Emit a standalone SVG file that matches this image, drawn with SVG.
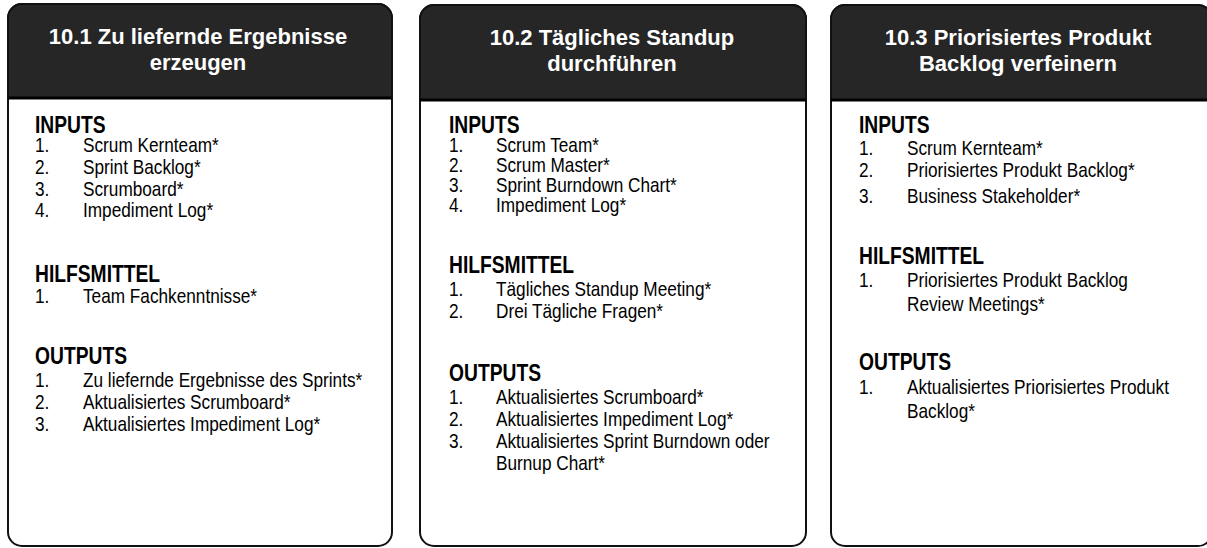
<svg xmlns="http://www.w3.org/2000/svg" width="1207" height="548" viewBox="0 0 1207 548">
<style>
.frame{fill:#fff;stroke:#111;stroke-width:2}
.hdr{fill:#262626;stroke:#111;stroke-width:2}
.sep{stroke:#000;stroke-width:3}
.title{font-family:"Liberation Sans",Arial,sans-serif;font-weight:bold;font-size:22px;fill:#fff;text-anchor:middle}
.h{font-family:"Liberation Sans",Arial,sans-serif;font-weight:bold;font-size:23.5px;fill:#000}
.t{font-family:"Liberation Sans",Arial,sans-serif;font-size:21px;fill:#000}
</style>
<g id="box1">
<rect class="frame" x="8" y="4" width="384" height="542" rx="14"/>
<path class="hdr" d="M8,98 V18 A14,14 0 0 1 22,4 H378 A14,14 0 0 1 392,18 V98 Z"/>
<line class="sep" x1="8" y1="98" x2="392" y2="98"/>
<text class="title" x="198" y="44">10.1 Zu liefernde Ergebnisse</text>
<text class="title" x="198" y="70">erzeugen</text>
<text class="h" transform="translate(35,133) scale(0.82,1)">INPUTS</text>
<text class="t" transform="translate(35,152) scale(0.82,1)">1.</text><text class="t" transform="translate(83,152) scale(0.82,1)">Scrum Kernteam*</text>
<text class="t" transform="translate(35,174) scale(0.82,1)">2.</text><text class="t" transform="translate(83,174) scale(0.82,1)">Sprint Backlog*</text>
<text class="t" transform="translate(35,196) scale(0.82,1)">3.</text><text class="t" transform="translate(83,196) scale(0.82,1)">Scrumboard*</text>
<text class="t" transform="translate(35,217) scale(0.82,1)">4.</text><text class="t" transform="translate(83,217) scale(0.82,1)">Impediment Log*</text>
<text class="h" transform="translate(35,282) scale(0.82,1)">HILFSMITTEL</text>
<text class="t" transform="translate(35,303) scale(0.82,1)">1.</text><text class="t" transform="translate(83,303) scale(0.82,1)">Team Fachkenntnisse*</text>
<text class="h" transform="translate(35,364) scale(0.82,1)">OUTPUTS</text>
<text class="t" transform="translate(35,387) scale(0.82,1)">1.</text><text class="t" transform="translate(83,387) scale(0.82,1)">Zu liefernde Ergebnisse des Sprints*</text>
<text class="t" transform="translate(35,409) scale(0.82,1)">2.</text><text class="t" transform="translate(83,409) scale(0.82,1)">Aktualisiertes Scrumboard*</text>
<text class="t" transform="translate(35,431) scale(0.82,1)">3.</text><text class="t" transform="translate(83,431) scale(0.82,1)">Aktualisiertes Impediment Log*</text>
</g>
<g id="box2">
<rect class="frame" x="420" y="5" width="386" height="541" rx="14"/>
<path class="hdr" d="M420,100 V19 A14,14 0 0 1 434,5 H792 A14,14 0 0 1 806,19 V100 Z"/>
<line class="sep" x1="420" y1="100" x2="806" y2="100"/>
<text class="title" x="612" y="45">10.2 Tägliches Standup</text>
<text class="title" x="612" y="71">durchführen</text>
<text class="h" transform="translate(449,133) scale(0.82,1)">INPUTS</text>
<text class="t" transform="translate(449,152) scale(0.82,1)">1.</text><text class="t" transform="translate(496,152) scale(0.82,1)">Scrum Team*</text>
<text class="t" transform="translate(449,172) scale(0.82,1)">2.</text><text class="t" transform="translate(496,172) scale(0.82,1)">Scrum Master*</text>
<text class="t" transform="translate(449,192) scale(0.82,1)">3.</text><text class="t" transform="translate(496,192) scale(0.82,1)">Sprint Burndown Chart*</text>
<text class="t" transform="translate(449,212) scale(0.82,1)">4.</text><text class="t" transform="translate(496,212) scale(0.82,1)">Impediment Log*</text>
<text class="h" transform="translate(449,273) scale(0.82,1)">HILFSMITTEL</text>
<text class="t" transform="translate(449,296) scale(0.82,1)">1.</text><text class="t" transform="translate(496,296) scale(0.82,1)">Tägliches Standup Meeting*</text>
<text class="t" transform="translate(449,318) scale(0.82,1)">2.</text><text class="t" transform="translate(496,318) scale(0.82,1)">Drei Tägliche Fragen*</text>
<text class="h" transform="translate(449,381) scale(0.82,1)">OUTPUTS</text>
<text class="t" transform="translate(449,404) scale(0.82,1)">1.</text><text class="t" transform="translate(496,404) scale(0.82,1)">Aktualisiertes Scrumboard*</text>
<text class="t" transform="translate(449,426) scale(0.82,1)">2.</text><text class="t" transform="translate(496,426) scale(0.82,1)">Aktualisiertes Impediment Log*</text>
<text class="t" transform="translate(449,448) scale(0.82,1)">3.</text><text class="t" transform="translate(496,448) scale(0.82,1)">Aktualisiertes Sprint Burndown oder</text>
<text class="t" transform="translate(496,470) scale(0.82,1)">Burnup Chart*</text>
</g>
<g id="box3">
<rect class="frame" x="831" y="5" width="381" height="541" rx="14"/>
<path class="hdr" d="M831,100 V19 A14,14 0 0 1 845,5 H1198 A14,14 0 0 1 1212,19 V100 Z"/>
<line class="sep" x1="831" y1="100" x2="1212" y2="100"/>
<text class="title" x="1018" y="45">10.3 Priorisiertes Produkt</text>
<text class="title" x="1018" y="71">Backlog verfeinern</text>
<text class="h" transform="translate(859,133) scale(0.82,1)">INPUTS</text>
<text class="t" transform="translate(859,155) scale(0.82,1)">1.</text><text class="t" transform="translate(907,155) scale(0.82,1)">Scrum Kernteam*</text>
<text class="t" transform="translate(859,177) scale(0.82,1)">2.</text><text class="t" transform="translate(907,177) scale(0.82,1)">Priorisiertes Produkt Backlog*</text>
<text class="t" transform="translate(859,203) scale(0.82,1)">3.</text><text class="t" transform="translate(907,203) scale(0.82,1)">Business Stakeholder*</text>
<text class="h" transform="translate(859,264) scale(0.82,1)">HILFSMITTEL</text>
<text class="t" transform="translate(859,287) scale(0.82,1)">1.</text><text class="t" transform="translate(907,287) scale(0.82,1)">Priorisiertes Produkt Backlog</text>
<text class="t" transform="translate(907,311) scale(0.82,1)">Review Meetings*</text>
<text class="h" transform="translate(859,370) scale(0.82,1)">OUTPUTS</text>
<text class="t" transform="translate(859,394) scale(0.82,1)">1.</text><text class="t" transform="translate(907,394) scale(0.82,1)">Aktualisiertes Priorisiertes Produkt</text>
<text class="t" transform="translate(907,418) scale(0.82,1)">Backlog*</text>
</g>
<g id="connectors"/>
</svg>
